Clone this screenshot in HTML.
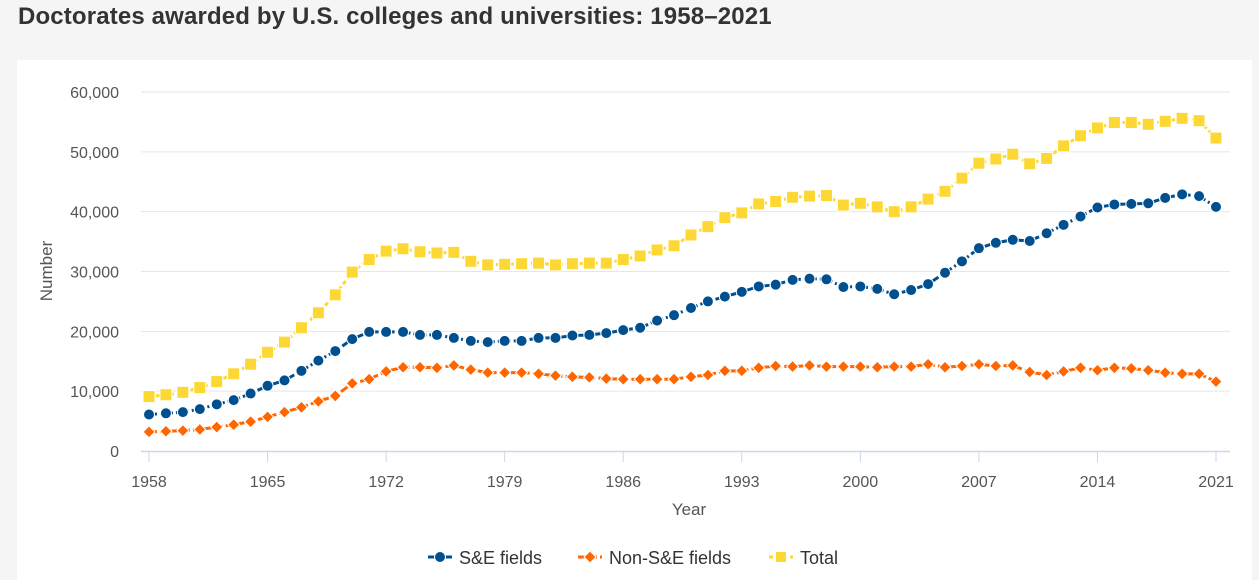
<!DOCTYPE html>
<html><head><meta charset="utf-8"><style>
body{margin:0;width:1259px;height:567px;background:#f5f5f5;font-family:"Liberation Sans",sans-serif;overflow:hidden;position:relative}
#title{position:absolute;left:18px;top:3px;font-size:24px;font-weight:bold;color:#333;margin:0;letter-spacing:0.15px}
#panel{position:absolute;left:17px;top:60px;width:1235px;height:520px;background:#fff}
svg{position:absolute;left:0;top:0}
text{font-family:"Liberation Sans",sans-serif}
</style></head><body>
<h1 id="title">Doctorates awarded by U.S. colleges and universities: 1958–2021</h1>
<div id="panel"></div>
<svg id="chart" width="1259" height="567"></svg>
<script>
const startYear = 1958;
const seValues = [6100,6300,6500,7000,7800,8500,9600,10900,11800,13400,15100,16700,18700,19900,19900,19900,19400,19400,18900,18400,18200,18400,18400,18900,18900,19300,19400,19700,20200,20600,21800,22700,23900,25000,25800,26600,27500,27800,28600,28800,28700,27400,27500,27100,26200,26900,27900,29800,31700,33900,34800,35300,35100,36400,37800,39200,40700,41200,41300,41400,42300,42900,42600,40800];
const nonSeValues = [3200,3300,3400,3600,4000,4400,4900,5700,6500,7300,8300,9200,11300,12000,13300,14000,14000,13900,14300,13600,13100,13100,13100,12900,12600,12400,12300,12100,12000,12000,12000,12000,12400,12700,13400,13400,13900,14200,14100,14300,14100,14100,14100,14000,14100,14100,14500,14000,14200,14500,14200,14300,13200,12700,13300,13900,13500,13900,13800,13500,13100,12900,12900,11600];
const totalValues = [9100,9400,9800,10600,11600,12900,14500,16500,18200,20600,23100,26100,29900,32000,33400,33800,33300,33100,33200,31700,31100,31200,31300,31400,31100,31300,31400,31400,32000,32600,33600,34300,36100,37500,39000,39800,41300,41700,42400,42600,42700,41100,41400,40800,40000,40800,42100,43400,45600,48100,48800,49600,48000,48900,51000,52700,54000,54900,54900,54600,55100,55600,55200,52300];
const xTicks = [1958,1965,1972,1979,1986,1993,2000,2007,2014,2021];
const yTicks = [0,10000,20000,30000,40000,50000,60000];

const NS='http://www.w3.org/2000/svg';
const svg=document.getElementById('chart');
const x0=149,x1=1216,y0=451,y1=92;
const xs=yr=>x0+(yr-1958)/(2021-1958)*(x1-x0);
const ys=v=>y0-(v/60000)*(y0-y1);
function mk(tag,attrs,parent){const e=document.createElementNS(NS,tag);for(const k in attrs)e.setAttribute(k,attrs[k]);(parent||svg).appendChild(e);return e;}

yTicks.forEach(v=>{
  if(v>0){const g=mk('line',{x1:141,x2:1230,y1:ys(v),y2:ys(v),stroke:'#e6e6e6','stroke-width':1});
  
  }
  const t=mk('text',{x:119,y:ys(v)+6,'text-anchor':'end','font-size':16,fill:'#555'});
  t.textContent=v.toLocaleString('en-US');
  
  
});
const ax=mk('line',{x1:141,x2:1230,y1:y0+0.5,y2:y0+0.5,stroke:'#ccd6eb','stroke-width':1.5});


xTicks.forEach(yr=>{
  const l=mk('line',{x1:xs(yr),x2:xs(yr),y1:y0,y2:y0+11,stroke:'#ccd6eb','stroke-width':1});
  
  
  const t=mk('text',{x:xs(yr),y:487,'text-anchor':'middle','font-size':16,fill:'#555'});
  t.textContent=yr;
  
  
});
const xt=mk('text',{x:689,y:515,'text-anchor':'middle','font-size':17,fill:'#555'});xt.textContent='Year';


const yt=mk('text',{x:52,y:271,'text-anchor':'middle','font-size':17,fill:'#555',transform:'rotate(-90 52 271)'});yt.textContent='Number';



function marker(shape,cx,cy,color,parent){
  if(shape==='circle')return mk('circle',{cx,cy,r:5.5,fill:color,stroke:'#fff','stroke-width':1},parent);
  if(shape==='diamond')return mk('path',{d:`M${cx} ${cy-6}L${cx+6} ${cy}L${cx} ${cy+6}L${cx-6} ${cy}Z`,fill:color,stroke:'#fff','stroke-width':1},parent);
  return mk('rect',{x:cx-6,y:cy-6,width:12,height:12,fill:color,stroke:'#fff','stroke-width':1},parent);
}
const series=[
  {name:'total',vals:totalValues,color:'#fdd835',shape:'square',dash:'4,3'},
  {name:'se-fields',vals:seValues,color:'#00508f',shape:'circle',dash:'8,3,2,3'},
  {name:'non-se-fields',vals:nonSeValues,color:'#ff6600',shape:'diamond',dash:'8,3'}
];
series.forEach(s=>{
  const g=mk('g',{});
  
  
  const d=s.vals.map((v,i)=>(i?'L':'M')+xs(startYear+i)+' '+ys(v)).join('');
  const p=mk('path',{d,fill:'none',stroke:s.color,'stroke-width':3,'stroke-dasharray':s.dash},g);
  
  
  s.vals.forEach((v,i)=>{
    const m=marker(s.shape,xs(startYear+i),ys(v),s.color,g);
    
    
  });
});
const legend=[{label:'S&E fields',color:'#00508f',shape:'circle',x:428,dash:'8,3,2,3'},{label:'Non-S&E fields',color:'#ff6600',shape:'diamond',x:578,dash:'8,3'},{label:'Total',color:'#fdd835',shape:'square',x:769,dash:'4,3'}];
legend.forEach(l=>{
  const g=mk('g',{});
  
  
  mk('line',{x1:l.x,x2:l.x+24,y1:557,y2:557,stroke:l.color,'stroke-width':3,'stroke-dasharray':l.dash},g);
  const m=marker(l.shape,l.x+12,557,l.color,g);
  if(l.shape==='square'){m.setAttribute('x',l.x+6.5);m.setAttribute('y',551.5);m.setAttribute('width',11);m.setAttribute('height',11);}
  const t=mk('text',{x:l.x+31,y:564,'font-size':18,fill:'#333'},g);t.textContent=l.label;
});
</script>
</body></html>
